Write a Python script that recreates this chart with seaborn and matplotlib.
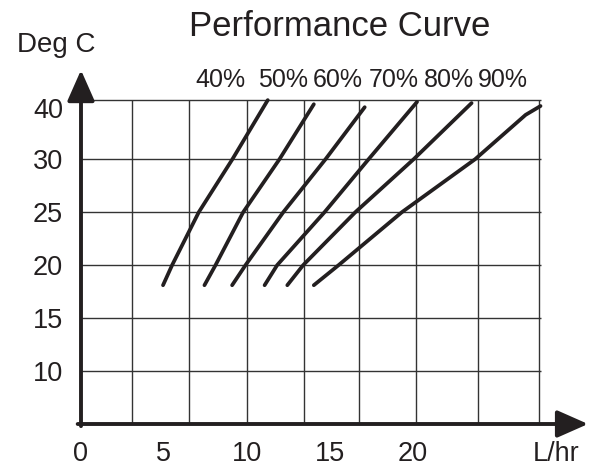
import numpy as np
import pandas as pd
import matplotlib
matplotlib.use("Agg")
import matplotlib.pyplot as plt
import matplotlib.transforms as mtransforms
import seaborn as sns

# flow (L/hr) vs temperature (Deg C) for each efficiency curve
pct_labels = ["40%", "50%", "60%", "70%", "80%", "90%"]
flow_40 = [4.95, 5.50, 7.11, 9.14, 11.27]
temp_40 = [18.1, 20, 25, 30, 40.0]
flow_50 = [7.45, 8.12, 9.79, 11.98, 14.05]
temp_50 = [18.1, 20, 25, 30, 39.3]
flow_60 = [9.12, 9.93, 12.21, 14.76, 17.12]
temp_60 = [18.1, 20, 25, 30, 38.8]
flow_70 = [11.08, 11.84, 14.70, 17.36, 20.28]
temp_70 = [18.1, 20, 25, 30, 39.7]
flow_80 = [12.45, 13.41, 16.56, 20.08, 23.57]
temp_80 = [18.1, 20, 25, 30, 39.5]
flow_90 = [14.05, 15.55, 19.37, 23.79, 26.83, 27.73]
temp_90 = [18.1, 20, 25, 30, 37.5, 39.0]

x_ticks = [0, 5, 10, 15, 20]
y_ticks = [10, 15, 20, 25, 30, 40]
x_grid = [3.1, 6.5, 10.0, 13.45, 16.8, 20.2, 23.95, 27.65]

flows = [flow_40, flow_50, flow_60, flow_70, flow_80, flow_90]
temps = [temp_40, temp_50, temp_60, temp_70, temp_80, temp_90]
rows = []
for lab, fl, tp in zip(pct_labels, flows, temps):
    for f, t in zip(fl, tp):
        rows.append({"curve": lab, "flow": f, "temp": t})
df = pd.DataFrame(rows)

sns.set_theme(style="white")
plt.rcParams["font.family"] = ["Liberation Sans", "DejaVu Sans"]
ink = "#231f20"

fig = plt.figure(figsize=(5.98, 4.69), dpi=100)
ax = fig.add_axes([81 / 598, 45 / 469, 517 / 598, 364 / 469])

# the chart squeezes the band above 30 so that 40 sits on the top line
k = 0.557
def fwd(y):
    y = np.asarray(y, dtype=float)
    return np.where(y <= 30, y, 30 + (y - 30) * k)
def inv(y):
    y = np.asarray(y, dtype=float)
    return np.where(y <= 30, y, 30 + (y - 30) / k)
ax.set_yscale("function", functions=(fwd, inv))

ax.set_xlim(0, 31.2)
ax.set_ylim(5, 46.8)

# grid
ax.vlines(x_grid, 5, 40, color="#333333", lw=1.0, zorder=1)
ax.hlines(y_ticks, 0, 27.78, color="#333333", lw=1.0, zorder=1)

sns.lineplot(data=df, x="flow", y="temp", hue="curve", units="curve",
             estimator=None, sort=False, palette=[ink] * 6, lw=2.7,
             legend=False, ax=ax, zorder=3)

for s in ax.spines.values():
    s.set_visible(False)

# axes with arrow heads
arrow = dict(arrowstyle="-|>,head_length=0.95,head_width=0.42", lw=2.8,
             color=ink, shrinkA=0, shrinkB=0, mutation_scale=20)
ax.annotate("", xy=(30.6, 5), xytext=(-0.2, 5), arrowprops=arrow,
            annotation_clip=False, zorder=4)
ax.annotate("", xy=(0, 45.1), xytext=(0, 4.8), arrowprops=arrow,
            annotation_clip=False, zorder=4)

# unit label sits in the tick row, under the arrow
ax.set_xticks(x_ticks + [28.7])
ax.set_xticklabels([str(v) for v in x_ticks] + ["L/hr"])
ax.set_yticks(y_ticks)
ax.set_yticklabels([str(v) for v in y_ticks])
ax.tick_params(axis="both", length=0, labelsize=19.5, labelcolor=ink)
ax.tick_params(axis="x", pad=12.5)
ax.tick_params(axis="y", pad=13)
ax.set_xlabel("")
ax.set_ylabel("")
# "40" sits a little below the top line in the original
lab40 = ax.get_yticklabels()[-1]
lab40.set_transform(lab40.get_transform() +
                    mtransforms.ScaledTranslation(0, -8 / 100, fig.dpi_scale_trans))

fig.text(340 / 598, 1 - 27 / 469, "Performance Curve", ha="center", va="center",
         fontsize=25, color=ink)
fig.text(56 / 598, 1 - 45 / 469, "Deg C", ha="center", va="center",
         fontsize=20, color=ink)

label_x = [220, 283, 338, 394, 449, 503]
for lx, lab in zip(label_x, pct_labels):
    fig.text(lx / 598, 1 - 80 / 469, lab, ha="center", va="center",
             fontsize=18, color=ink)

fig.savefig("out.png", dpi=100)
